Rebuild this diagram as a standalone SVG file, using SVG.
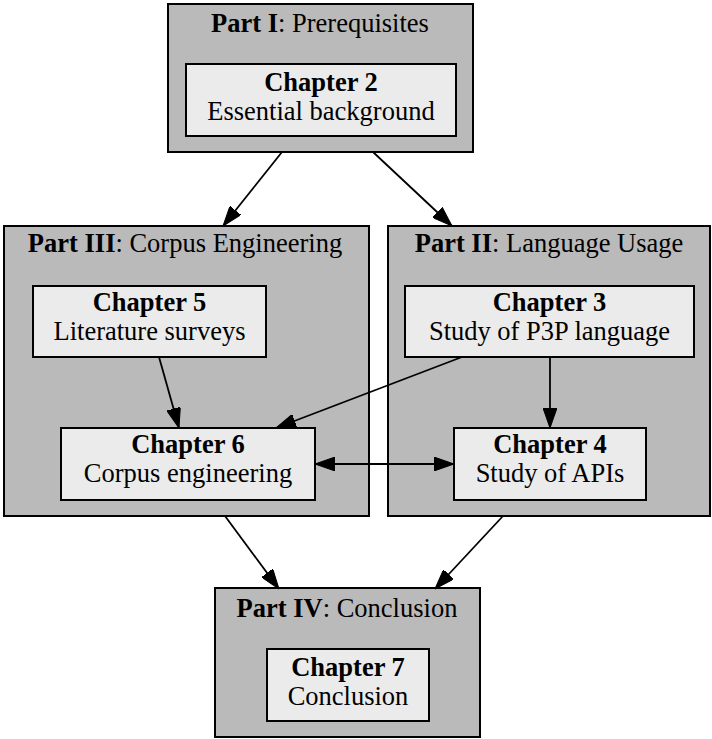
<svg xmlns="http://www.w3.org/2000/svg" width="712" height="739" viewBox="0 0 712 739">
  <style>
    .cluster { fill: #bababa; stroke: #000; stroke-width: 2; }
    .node { fill: #ebebeb; stroke: #000; stroke-width: 2; }
    text { font-family: "Liberation Serif", "Times New Roman", serif; font-size: 26.5px; fill: #000; text-anchor: middle; }
    .b { font-weight: bold; }
    .edge { fill: none; stroke: #000; stroke-width: 1.8; }
  </style>
  <defs>
    <marker id="arrow" viewBox="0 0 20 14" refX="20" refY="7" markerWidth="20" markerHeight="14" markerUnits="userSpaceOnUse" orient="auto-start-reverse">
      <path d="M0,0 L20,7 L0,14 Z" fill="#000" stroke="#000" stroke-width="1"/>
    </marker>
  </defs>

  <rect width="712" height="739" fill="#fff"/>

  <!-- Part I -->
  <g id="part1">
    <rect class="cluster" x="168" y="4" width="305" height="148"/>
    <text x="320" y="32"><tspan class="b">Part I</tspan>: Prerequisites</text>
  </g>
  <!-- Part III -->
  <g id="part3">
    <rect class="cluster" x="4" y="226" width="365" height="290"/>
    <text x="185" y="252"><tspan class="b">Part III</tspan>: Corpus Engineering</text>
  </g>
  <!-- Part II -->
  <g id="part2">
    <rect class="cluster" x="388" y="226" width="322" height="290"/>
    <text x="549" y="252"><tspan class="b">Part II</tspan>: Language Usage</text>
  </g>
  <!-- Part IV -->
  <g id="part4">
    <rect class="cluster" x="215" y="588" width="265" height="149"/>
    <text x="347" y="617"><tspan class="b">Part IV</tspan>: Conclusion</text>
  </g>

  <g id="ch2">
    <rect class="node" x="186" y="64" width="270" height="72"/>
    <text x="321" y="90.5" class="b">Chapter 2</text>
    <text x="321" y="120">Essential background</text>
  </g>
  <g id="ch5">
    <rect class="node" x="33" y="286" width="233" height="71"/>
    <text x="149.5" y="310.5" class="b">Chapter 5</text>
    <text x="149.5" y="340">Literature surveys</text>
  </g>
  <g id="ch3">
    <rect class="node" x="405" y="286" width="289" height="71"/>
    <text x="549.5" y="310.5" class="b">Chapter 3</text>
    <text x="549.5" y="340">Study of P3P language</text>
  </g>
  <g id="ch6">
    <rect class="node" x="61" y="428" width="254" height="72"/>
    <text x="188" y="452.5" class="b">Chapter 6</text>
    <text x="188" y="482">Corpus engineering</text>
  </g>
  <g id="ch4">
    <rect class="node" x="454" y="428" width="192" height="72"/>
    <text x="550" y="452.5" class="b">Chapter 4</text>
    <text x="550" y="482">Study of APIs</text>
  </g>
  <g id="ch7">
    <rect class="node" x="267" y="649" width="162" height="72"/>
    <text x="348" y="675.5" class="b">Chapter 7</text>
    <text x="348" y="705">Conclusion</text>
  </g>

  <g id="edges">
    <line class="edge" x1="282" y1="152" x2="223" y2="226" marker-end="url(#arrow)"/>
    <line class="edge" x1="373" y1="152" x2="452" y2="226" marker-end="url(#arrow)"/>
    <line class="edge" x1="159" y1="357" x2="179" y2="428" marker-end="url(#arrow)"/>
    <line class="edge" x1="462" y1="357" x2="276" y2="428" marker-end="url(#arrow)"/>
    <line class="edge" x1="550" y1="357" x2="550" y2="428" marker-end="url(#arrow)"/>
    <line class="edge" x1="315" y1="464" x2="454" y2="464" marker-start="url(#arrow)" marker-end="url(#arrow)"/>
    <line class="edge" x1="225" y1="516" x2="279" y2="589" marker-end="url(#arrow)"/>
    <line class="edge" x1="503" y1="516" x2="435" y2="589" marker-end="url(#arrow)"/>
  </g>
</svg>
